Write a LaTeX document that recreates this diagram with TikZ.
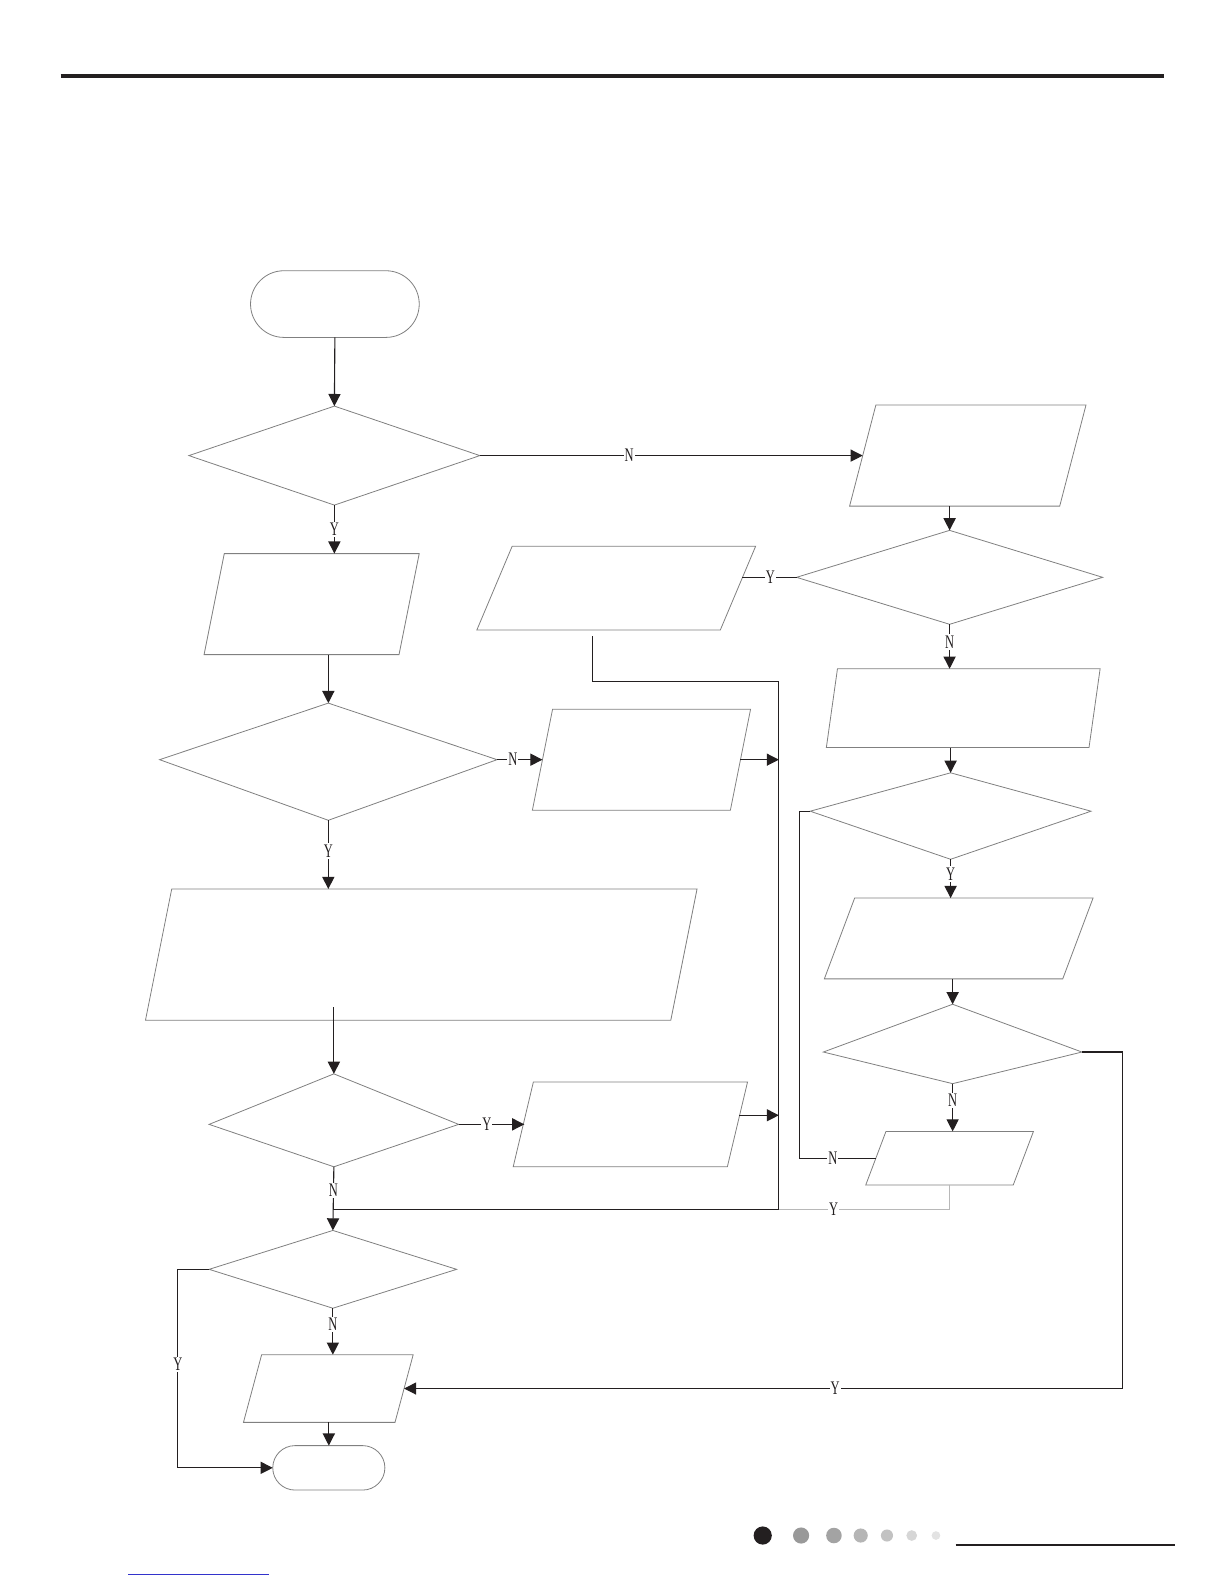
\documentclass[tikz,border=0pt]{standalone}
\usepackage{fontspec}
\setmainfont{Liberation Serif}
\usetikzlibrary{arrows.meta}

\definecolor{boxline}{gray}{0.5}
\definecolor{ink}{HTML}{231F20}
\definecolor{wireY}{gray}{0.72}
\definecolor{linkblue}{HTML}{3333CC}

\tikzset{
	box/.style={draw=boxline, line width=0.8pt},
	slot/.style={inner sep=0pt, outer sep=0pt},
	terminal/.style={box, slot, rectangle, rounded corners=#1},
	flow/.style={line width=1.1pt, draw=ink, -{Triangle[length=12pt,width=12pt]}},
	wire/.style={line width=1.1pt, draw=ink},
	yn/.style={fill=white, inner sep=1.5pt, text=ink, font=\fontsize{19}{19}\selectfont, xscale=0.65},
}

% slanted data box: name, centre, edge width, height, slant
\newcommand{\iobox}[5]{%
	\node[slot, minimum width=#3pt, minimum height=#4pt](#1) at (#2){};
	\draw[box] ([xshift={#5/2}]#1.north west) -- ([xshift={#5/2}]#1.north east) -- ([xshift={-#5/2}]#1.south east) -- ([xshift={-#5/2}]#1.south west) -- cycle;}
% decision box: name, centre, width, height, shift of side corners
\newcommand{\decbox}[5]{%
	\node[slot, minimum width=#3pt, minimum height=#4pt](#1) at (#2){};
	\coordinate (#1-w) at ([yshift=#5]#1.west);
	\coordinate (#1-e) at ([yshift=#5]#1.east);
	\draw[box] (#1.north) -- (#1-e) -- (#1.south) -- (#1-w) -- cycle;}

\begin{document}
\begin{tikzpicture}[x=1pt, y=-1pt]
			\useasboundingbox (0,0) rectangle (1212,1568);
			\draw[line width=3.5pt, ink] (60,75) -- (1152,75);
			% left column
			\node[terminal=33pt, minimum width=167pt, minimum height=66pt](start) at (331.5, 301){};
			\decbox{D1}{331, 451}{288}{98}{0}
			\iobox{P1}{308.5, 598}{193}{100}{20}
			\decbox{D3}{325, 754}{334}{116}{2}
			\iobox{P5}{635, 752}{196}{100}{20}
			\iobox{P7}{417, 945}{520}{130}{26}
			\decbox{D7}{330.5, 1109}{247}{92}{-4}
			\iobox{P8}{624, 1113}{212}{84}{20}
			\decbox{D6}{329.5, 1256.5}{245}{77}{0}
			\iobox{P10}{325, 1374.5}{150}{67}{18}
			\node[terminal=22pt, minimum width=111pt, minimum height=44pt](stop) at (325.5, 1453){};
			% right column
			\iobox{P2}{958, 451}{208}{100}{26}
			\decbox{D2}{940, 571.5}{303}{93}{0}
			\iobox{P3}{610, 582.2}{241}{83}{35}
			\iobox{P4}{953.5, 701}{260}{78}{11}
			\decbox{D4}{941, 807.8}{278}{85.6}{4.8}
			\iobox{P6}{949, 929}{236}{80}{30}
			\decbox{D5}{943, 1033.4}{256}{78.6}{-8}
			\iobox{P9}{940, 1146.5}{146}{53}{20}
			\coordinate (busTop) at (771, 675);
			\coordinate (busBot) at (771, 1197);
			% connectors
			\draw[flow] (start.south) -- (D1.north);
			\draw[flow] (D1-e) -- (P2.west) node[yn, pos=0.39]{N};
			\draw[flow] (D1.south) -- (D1.south |- P1.north) node[yn, pos=0.5]{Y};
			\draw[flow] (D3.north |- P1.south) -- (D3.north);
			\draw[flow] (D3-e) -- (D3-e -| P5.west) node[yn, pos=0.35]{N};
			\draw[flow] (D3.south) -- (D3.south |- P7.north) node[yn, pos=0.45]{Y};
			\draw[flow] ([yshift=13pt]D7.north |- P7.south) -- (D7.north);
			\draw[flow] (D7-e) -- ([xshift=1pt]D7-e -| P8.west) node[yn, pos=0.43]{Y};
			\draw[flow] (P5.east) -- (P5.east -| busTop);
			\draw[flow] ([xshift=2pt, yshift=9pt]P8.east) -- ([yshift=9pt]P8.east -| busTop);
			\draw[wireY, line width=1.1pt] (P9.south) |- (busBot) node[yn, pos=0.84]{Y};
			\draw[wire] ([xshift=-23.5pt, yshift=-6pt]P3.south) |- (busTop) -- (busBot) -- (D6.north |- busBot);
			\draw[flow] (D7.south) -- (D6.north) node[yn, pos=0.37]{N};
			\draw[flow] (D6.south) -- (D6.south |- P10.north) node[yn, pos=0.35]{N};
			\draw[flow] (stop.north |- P10.south) -- (stop.north);
			\draw[flow] (D6-w) -- ++(-31, 0) |- (stop.west) node[yn, pos=0.24]{Y};
			\draw[flow] (D2.north |- P2.south) -- (D2.north);
			\draw[wire] (D2-w) -- ([xshift=4pt]D2-w -| P3.east) node[yn, pos=0.48]{Y};
			\draw[flow] (D2.south) -- (D2.south |- P4.north) node[yn, pos=0.4]{N};
			\draw[flow] (D4.north |- P4.south) -- (D4.north);
			\draw[flow] (D4.south) -- (D4.south |- P6.north) node[yn, pos=0.38]{Y};
			\draw[flow] (D5.north |- P6.south) -- (D5.north);
			\draw[flow] (D5.south) -- (D5.south |- P9.north) node[yn, pos=0.35]{N};
			\draw[wire] (D4-w) -- ++(-11, 0) |- (P9.west) node[yn, pos=0.72]{N};
			\draw[flow] (D5-e) -- ++(40, 0) |- (P10.east) node[yn, pos=0.7]{Y};
			% page footer
			\fill[ink] (755, 1520) circle (9);
			\fill[gray!80] (793, 1520) circle (8);
			\fill[gray!72] (825.5, 1520) circle (7.7);
			\fill[gray!58] (852, 1520) circle (7);
			\fill[gray!48] (878, 1520) circle (6);
			\fill[gray!32] (902.5, 1520) circle (5.3);
			\fill[gray!22] (926.5, 1520) circle (4.3);
			\draw[line width=2.2pt, ink] (946, 1529) -- (1163, 1529);
			\draw[line width=1pt, linkblue] (127, 1559) -- (266, 1559);
		\end{tikzpicture}
\end{document}
